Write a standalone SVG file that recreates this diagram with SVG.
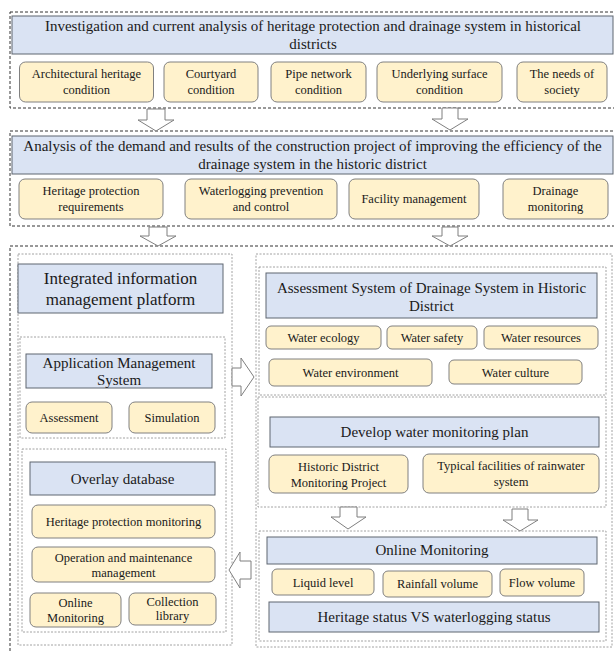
<svg xmlns="http://www.w3.org/2000/svg" width="614" height="651" viewBox="0 0 614 651">
<style>
.sec{fill:none;stroke:#333;stroke-width:1;stroke-dasharray:3 2}
.grp{fill:none;stroke:#8a8a8a;stroke-width:0.8;stroke-dasharray:2 1.5}
.blue{fill:#DAE3F3;stroke:#5f6670;stroke-width:1}
.yel{fill:#FFF2CC;stroke:#808080;stroke-width:1}
.arr{fill:#fff;stroke:#7f7f7f;stroke-width:1}
text{font-family:"Liberation Serif","Times New Roman",serif;fill:#1a1a1a;text-anchor:middle}
.t15{font-size:15px}
.t17{font-size:17px}
.t12{font-size:12.5px}
</style>
<rect width="614" height="651" fill="#fff"/>

<g id="sections">
<rect class="sec" x="10" y="12" width="610" height="96"/>
<rect class="sec" x="10" y="131" width="610" height="95"/>
<rect class="sec" x="10" y="246" width="610" height="420"/>
<rect class="grp" x="18" y="254" width="214" height="391"/>
<rect class="grp" x="20" y="337" width="205" height="101"/>
<rect class="grp" x="22" y="449" width="204" height="183"/>
<rect class="grp" x="256" y="254" width="356" height="393"/>
<rect class="grp" x="259" y="267" width="347" height="128"/>
<rect class="grp" x="258" y="397" width="348" height="110"/>
<rect class="grp" x="259" y="531" width="347" height="110"/>
</g>

<g id="n-investigation"><rect class="blue" x="12" y="16" width="601" height="38"/>
<text class="t15" x="313" y="31">Investigation and current analysis of heritage protection and drainage system in historical<tspan x="313" y="49">districts</tspan></text></g>
<g id="n-architectural"><rect class="yel" x="19.5" y="62" width="134" height="40" rx="6"/>
<text class="t12" x="86.5" y="78">Architectural heritage<tspan x="86.5" y="94">condition</tspan></text></g>
<g id="n-courtyard"><rect class="yel" x="164" y="62" width="94" height="40" rx="6"/>
<text class="t12" x="211" y="78">Courtyard<tspan x="211" y="94">condition</tspan></text></g>
<g id="n-pipe"><rect class="yel" x="271" y="62" width="95" height="40" rx="6"/>
<text class="t12" x="318.5" y="78">Pipe network<tspan x="318.5" y="94">condition</tspan></text></g>
<g id="n-underlying"><rect class="yel" x="377" y="62" width="125" height="40" rx="6"/>
<text class="t12" x="439.5" y="78">Underlying surface<tspan x="439.5" y="94">condition</tspan></text></g>
<g id="n-needs"><rect class="yel" x="517" y="62" width="90" height="40" rx="6"/>
<text class="t12" x="562" y="78">The needs of<tspan x="562" y="94">society</tspan></text></g>

<g id="n-analysis"><rect class="blue" x="12" y="136" width="601" height="38"/>
<text class="t15" x="312.5" y="151">Analysis of the demand and results of the construction project of improving the efficiency of the<tspan x="312.5" y="169">drainage system in the historic district</tspan></text></g>
<g id="n-heritage-req"><rect class="yel" x="19" y="179" width="144" height="40" rx="6"/>
<text class="t12" x="91" y="195">Heritage protection<tspan x="91" y="211">requirements</tspan></text></g>
<g id="n-waterlogging"><rect class="yel" x="185" y="179" width="152" height="40" rx="6"/>
<text class="t12" x="261" y="195">Waterlogging prevention<tspan x="261" y="211">and control</tspan></text></g>
<g id="n-facility"><rect class="yel" x="349" y="179" width="130" height="40" rx="6"/>
<text class="t12" x="414" y="203">Facility management</text></g>
<g id="n-drainage-mon"><rect class="yel" x="503" y="179" width="105" height="40" rx="6"/>
<text class="t12" x="555.5" y="195">Drainage<tspan x="555.5" y="211">monitoring</tspan></text></g>

<g id="n-platform"><rect class="blue" x="18" y="264" width="205" height="49"/>
<text class="t17" x="120.5" y="284">Integrated information<tspan x="120.5" y="305">management platform</tspan></text></g>
<g id="n-appmgmt"><rect class="blue" x="26" y="354" width="186" height="34"/>
<text class="t15" x="119" y="368">Application Management<tspan x="119" y="385">System</tspan></text></g>
<g id="n-assessment"><rect class="yel" x="26" y="402" width="86" height="31" rx="6"/>
<text class="t12" x="69" y="422">Assessment</text></g>
<g id="n-simulation"><rect class="yel" x="129" y="402" width="86" height="31" rx="6"/>
<text class="t12" x="172" y="422">Simulation</text></g>
<g id="n-overlay"><rect class="blue" x="30" y="462" width="185" height="33"/>
<text class="t15" x="122.5" y="484">Overlay database</text></g>
<g id="n-heritage-mon"><rect class="yel" x="32" y="505" width="183" height="33" rx="6"/>
<text class="t12" x="123.5" y="526">Heritage protection monitoring</text></g>
<g id="n-operation"><rect class="yel" x="32" y="547" width="183" height="35" rx="6"/>
<text class="t12" x="123.5" y="562">Operation and maintenance<tspan x="123.5" y="577">management</tspan></text></g>
<g id="n-online-db"><rect class="yel" x="30" y="593" width="91" height="34" rx="6"/>
<text class="t12" x="75.5" y="607">Online<tspan x="75.5" y="622">Monitoring</tspan></text></g>
<g id="n-collection"><rect class="yel" x="129" y="593" width="87" height="32" rx="6"/>
<text class="t12" x="172.5" y="606">Collection<tspan x="172.5" y="620">library</tspan></text></g>

<g id="n-assess-system"><rect class="blue" x="266" y="273" width="331" height="45"/>
<text class="t15" x="431.5" y="293">Assessment System of Drainage System in Historic<tspan x="431.5" y="311">District</tspan></text></g>
<g id="n-ecology"><rect class="yel" x="266" y="326" width="115" height="23" rx="5"/>
<text class="t12" x="323.5" y="342">Water ecology</text></g>
<g id="n-safety"><rect class="yel" x="387" y="326" width="90" height="23" rx="5"/>
<text class="t12" x="432" y="342">Water safety</text></g>
<g id="n-resources"><rect class="yel" x="484" y="326" width="114" height="23" rx="5"/>
<text class="t12" x="541" y="342">Water resources</text></g>
<g id="n-environment"><rect class="yel" x="269" y="359" width="163" height="27" rx="5"/>
<text class="t12" x="350.5" y="377">Water environment</text></g>
<g id="n-culture"><rect class="yel" x="449" y="360" width="133" height="24" rx="5"/>
<text class="t12" x="515.5" y="377">Water culture</text></g>

<g id="n-develop"><rect class="blue" x="270" y="417" width="329" height="30"/>
<text class="t15" x="434.5" y="437">Develop water monitoring plan</text></g>
<g id="n-hd-project"><rect class="yel" x="269" y="455" width="139" height="38" rx="6"/>
<text class="t12" x="338.5" y="471">Historic District<tspan x="338.5" y="487">Monitoring Project</tspan></text></g>
<g id="n-typical"><rect class="yel" x="423" y="454" width="176" height="39" rx="6"/>
<text class="t12" x="511" y="470">Typical facilities of rainwater<tspan x="511" y="486">system</tspan></text></g>

<g id="n-online"><rect class="blue" x="267" y="537" width="330" height="27"/>
<text class="t15" x="432" y="555">Online Monitoring</text></g>
<g id="n-liquid"><rect class="yel" x="272" y="569" width="102" height="26" rx="5"/>
<text class="t12" x="323" y="587">Liquid level</text></g>
<g id="n-rainfall"><rect class="yel" x="383" y="571" width="109" height="26" rx="5"/>
<text class="t12" x="437.5" y="588">Rainfall volume</text></g>
<g id="n-flow"><rect class="yel" x="500" y="569" width="84" height="27" rx="5"/>
<text class="t12" x="542" y="587">Flow volume</text></g>
<g id="n-status"><rect class="blue" x="269" y="602" width="330" height="30"/>
<text class="t15" x="434" y="622">Heritage status VS waterlogging status</text></g>

<g id="connectors">
<polygon class="arr" points="147,109 165,109 165,120 174,120 156,131 138,120 147,120"/>
<polygon class="arr" points="442,108 458,108 458,119 468,119 450,130 432,119 442,119"/>
<polygon class="arr" points="149,227 167,227 167,236 176,236 158,246 140,236 149,236"/>
<polygon class="arr" points="442,227 458,227 458,236 468,236 450,246 432,236 442,236"/>
<polygon class="arr" points="232,368 241,368 241,358 254,377 241,396 241,386 232,386"/>
<polygon class="arr" points="229,570 240,552 240,561 251,561 251,579 240,579 240,588"/>
<polygon class="arr" points="340,507 357,507 357,517 366,517 348,529 331,517 340,517"/>
<polygon class="arr" points="512,509 528,509 528,520 538,520 520,531 503,520 512,520"/>
</g>
</svg>
